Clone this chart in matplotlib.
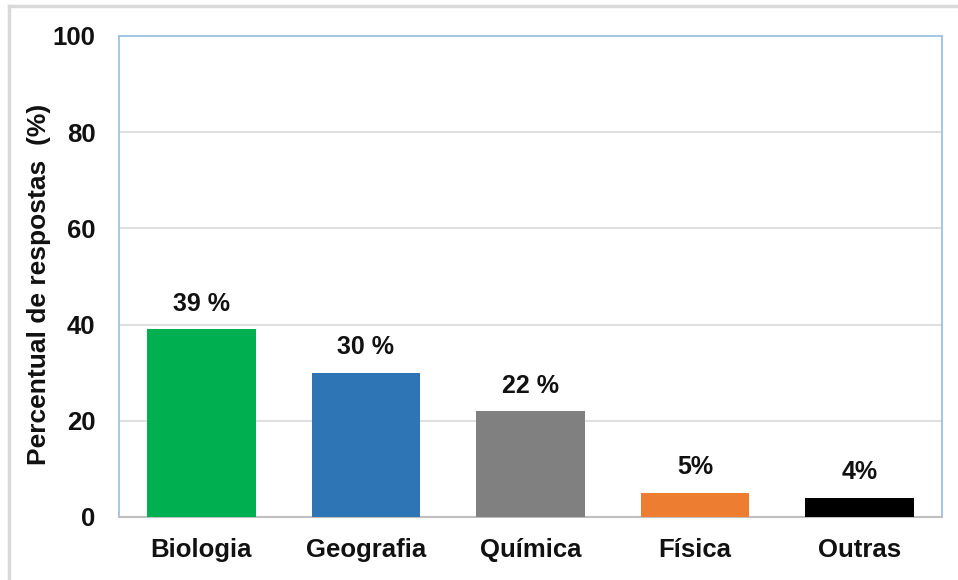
import matplotlib.pyplot as plt
from matplotlib.lines import Line2D

# chart data
categories = ['Biologia', 'Geografia', 'Química', 'Física', 'Outras']
values = [39, 30, 22, 5, 4]
value_labels = ['39 %', '30 %', '22 %', '5%', '4%']
colors = ['#00B050', '#2E75B6', '#808080', '#ED7D31', '#000000']
y_ticks = [0, 20, 40, 60, 80, 100]

plt.rcParams['font.family'] = ['Liberation Sans', 'DejaVu Sans']
plt.rcParams['font.weight'] = 'bold'

fig = plt.figure(figsize=(9.58, 5.8), dpi=100)
ax = fig.add_axes([119 / 958, 1 - 517 / 580, (942 - 119) / 958, (517 - 36) / 580])

x = range(len(categories))
ax.bar(x, values, width=0.66, color=colors, zorder=3)

for xi, v, lab in zip(x, values, value_labels):
    ax.text(xi, v + 2.8, lab, ha='center', va='bottom',
            fontsize=18, fontweight='bold', color='#111111')

ax.set_xlim(-0.5, len(categories) - 0.5)
ax.set_ylim(0, 100)
ax.set_yticks(y_ticks)
ax.set_xticks(list(x))
ax.set_xticklabels(categories)
ax.tick_params(axis='both', length=0, labelsize=18.5, colors='#111111')
ax.tick_params(axis='y', pad=17)
ax.tick_params(axis='x', pad=15)
for lbl in ax.get_xticklabels() + ax.get_yticklabels():
    lbl.set_fontweight('bold')

ax.grid(axis='y', color='#D9D9D9', linewidth=1.2, zorder=0)
ax.set_axisbelow(True)

for side in ['left', 'top', 'right']:
    ax.spines[side].set_color('#9DC3E6')
    ax.spines[side].set_linewidth(1.3)
ax.spines['bottom'].set_color('#BFBFBF')
ax.spines['bottom'].set_linewidth(1.5)

fig.text(39 / 958, 1 - 284 / 580, 'Percentual de respostas  (%)', rotation=90,
         ha='center', va='center', fontsize=19, fontweight='bold', color='#111111')

# outer chart frame (only top and left edges visible)
fig.add_artist(Line2D([8.5 / 958, 8.5 / 958], [0, 1 - 5.5 / 580],
                      transform=fig.transFigure, color='#D9D9D9', linewidth=2.5))
fig.add_artist(Line2D([8.5 / 958, 1], [1 - 5.5 / 580, 1 - 5.5 / 580],
                      transform=fig.transFigure, color='#D9D9D9', linewidth=2.5))

fig.savefig('out.png', dpi=100)
